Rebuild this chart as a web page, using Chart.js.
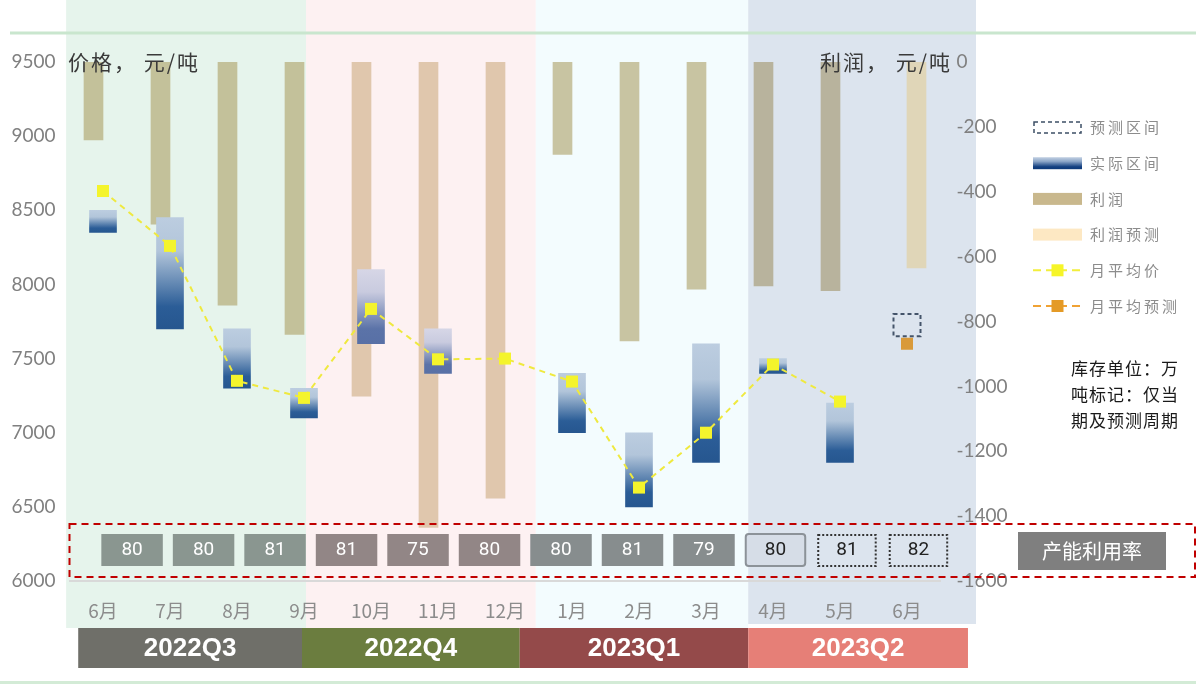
<!DOCTYPE html>
<html>
<head>
<meta charset="utf-8">
<title>价格与利润</title>
<script src="https://cdn.jsdelivr.net/npm/chart.js@4.4.1/dist/chart.umd.min.js"></script>
<style>
  html, body { margin: 0; padding: 0; background: #fff; }
  #chart { display: block; }
</style>
</head>
<body>
<canvas id="chart" width="1196" height="684"></canvas>
<script>
// ---- data ----
const months = ["6月", "7月", "8月", "9月", "10月", "11月", "12月", "1月", "2月", "3月", "4月", "5月", "6月"];
const profit = [-240, -500, -750, -840, -1030, -1435, -1345, -285, -860, -700, -690, -705, null];
const profitForecast = [null, null, null, null, null, null, null, null, null, null, null, null, -635];
const rangeLow = [8350, 7700, 7300, 7100, 7600, 7400, null, 7000, 6500, 6800, 7400, 6800, null];
const rangeHigh = [8500, 8450, 7700, 7300, 8100, 7700, null, 7400, 7000, 7600, 7500, 7200, null];
const forecastLow = [null, null, null, null, null, null, null, null, null, null, null, null, 7650];
const forecastHigh = [null, null, null, null, null, null, null, null, null, null, null, null, 7800];
const avgPrice = [8630, 8260, 7350, 7235, 7835, 7495, 7500, 7345, 6630, 7000, 7460, 7210, null];
const avgForecast = [null, null, null, null, null, null, null, null, null, null, null, null, 7600];
const capacity = [80, 80, 81, 81, 75, 80, 80, 81, 79, 80, 81, 82];
const quarters = ["2022Q3", "2022Q4", "2023Q1", "2023Q2"];
const priceRange = [6000, 9500];
const profitRange = [-1600, 0];

// ---- layout / styles ----
const FONT_CJK = '"Noto Sans CJK SC", "Noto Sans", sans-serif';
const FONT_NUM = 'Lato, "Noto Sans", sans-serif';
const bandEdges = [-0.55, 3.03, 6.46, 9.63, 13.03];      // in month-index units
const bandColors = ["#e6f4ec", "#fdf1f2", "#f3fcfe", "#dce4ee"];
const quarterEdges = [-0.37, 2.97, 6.22, 9.63, 12.91];
const quarterColors = ["#6f6f69", "#6b7d3f", "#944a4a", "#e67f77"];
// capacity boxes sit on their own grid, expressed in month-index units
const capStart = 0.434, capStep = 1.067, capHalf = 0.43;
const capStyles = ["#8a9690", "#8a9690", "#8a9690", "#928686", "#928686", "#928686",
                   "#878d8e", "#878d8e", "#878d8e", "outline", "dotted", "dotted"];

function profitColor(c) {
  const i = c.dataIndex;
  if (i >= 4 && i <= 6) return "rgba(205,172,126,0.6)";
  if (i >= 10) return "rgba(160,146,104,0.6)";
  return "rgba(172,158,100,0.6)";
}

function rangeFill(c) {
  const chart = c.chart;
  const v = c.raw;
  if (!chart.chartArea || !Array.isArray(v)) return "rgba(0,0,0,0)";
  const ys = chart.scales.y;
  const top = ys.getPixelForValue(Math.max(v[0], v[1]));
  const bot = ys.getPixelForValue(Math.min(v[0], v[1]));
  const soft = c.dataIndex === 4 || c.dataIndex === 5;
  const g = chart.ctx.createLinearGradient(0, top, 0, bot);
  g.addColorStop(0, soft ? "#d6d6e6" : "#bccde0");
  g.addColorStop(0.3, soft ? "#c9cbdf" : "#b2c5da");
  g.addColorStop(0.8, soft ? "#5b73a8" : "#2b5d97");
  g.addColorStop(1, soft ? "#5870a6" : "#26568f");
  return g;
}

function text(ctx, s, x, y, font, color, align, spacing) {
  ctx.save();
  ctx.font = font;
  ctx.fillStyle = color;
  ctx.textAlign = align || "left";
  ctx.textBaseline = "middle";
  if (spacing) ctx.letterSpacing = spacing;
  ctx.fillText(s, x, y);
  ctx.restore();
}

const decor = {
  id: "decor",
  beforeDraw(chart) {
    const ctx = chart.ctx;
    const x = chart.scales.x;
    const px = v => x.getPixelForValue(v);
    ctx.save();
    // quarter background bands
    for (let q = 0; q < 4; q++) {
      ctx.fillStyle = bandColors[q];
      ctx.fillRect(px(bandEdges[q]), 0, px(bandEdges[q + 1]) - px(bandEdges[q]), q === 3 ? 624 : 628);
    }
    // top and bottom rules
    ctx.fillStyle = "#c9e6ce";
    ctx.fillRect(10, 31.5, 1186, 3);
    ctx.fillStyle = "#d3ebd6";
    ctx.fillRect(0, 681, 1196, 3);
    // quarter labels
    for (let q = 0; q < quarters.length; q++) {
      const l = px(quarterEdges[q]), r = px(quarterEdges[q + 1]);
      ctx.fillStyle = quarterColors[q];
      ctx.fillRect(l, 628, r - l, 40);
      text(ctx, quarters[q], (l + r) / 2, 649, 'bold 26px "Liberation Sans", Arial, sans-serif', "#ffffff", "center");
    }
    ctx.restore();
  },
  afterDatasetsDraw(chart) {
    const ctx = chart.ctx;
    const area = chart.chartArea;
    const x = chart.scales.x;
    ctx.save();
    // forecast range: dashed outline around the bar element
    const meta = chart.getDatasetMeta(3);
    meta.data.forEach((bar, i) => {
      if (forecastLow[i] == null) return;
      const p = bar.getProps(["x", "y", "base", "width"], true);
      ctx.setLineDash([4, 3]);
      ctx.strokeStyle = "#44546a";
      ctx.lineWidth = 2;
      ctx.strokeRect(p.x - p.width / 2, Math.min(p.y, p.base), p.width, Math.abs(p.base - p.y));
    });
    // capacity strip
    ctx.setLineDash([7, 5]);
    ctx.strokeStyle = "#c00000";
    ctx.lineWidth = 2;
    ctx.strokeRect(area.left, 524, 1195 - area.left, 53);
    ctx.setLineDash([]);
    capacity.forEach((v, i) => {
      const c = capStart + capStep * i;
      const l = x.getPixelForValue(c - capHalf * capStep), r = x.getPixelForValue(c + capHalf * capStep);
      const st = capStyles[i];
      let tc = "#ffffff";
      if (st === "outline") {
        ctx.fillStyle = "#d6dde7";
        ctx.strokeStyle = "#8c9298";
        ctx.lineWidth = 2;
        ctx.beginPath();
        ctx.roundRect(l + 1, 534, r - l - 2, 32, 3);
        ctx.fill();
        ctx.stroke();
        tc = "#222222";
      } else if (st === "dotted") {
        ctx.setLineDash([2, 2]);
        ctx.strokeStyle = "#333333";
        ctx.lineWidth = 2;
        ctx.strokeRect(l + 2, 535, r - l - 4, 31);
        ctx.setLineDash([]);
        tc = "#222222";
      } else {
        ctx.fillStyle = st;
        ctx.fillRect(l, 534, r - l, 32);
      }
      text(ctx, String(v), (l + r) / 2, 550.5, '19px Roboto, "Liberation Sans", sans-serif', tc, "center");
    });
    // axis titles
    text(ctx, "价格， 元/吨", 68, 62, "21px " + FONT_CJK, "#3a3a3a", "left", "2px");
    text(ctx, "利润， 元/吨", 952, 62, "21px " + FONT_CJK, "#3a3a3a", "right", "2px");
    ctx.restore();
  },
  afterDraw(chart) {
    const ctx = chart.ctx;
    ctx.save();
    // capacity label box
    ctx.fillStyle = "#7f7f7f";
    ctx.fillRect(1018, 532, 148, 38);
    text(ctx, "产能利用率", 1092, 551, "20px " + FONT_CJK, "#ffffff", "center");

    // legend
    const ds = chart.data.datasets;
    const items = [
      { label: ds[3].label, kind: "dash" },
      { label: ds[2].label, kind: "grad" },
      { label: ds[0].label, kind: "fill", color: "#c9b88d" },
      { label: ds[1].label, kind: "fill", color: "#fde8c3" },
      { label: ds[4].label, kind: "line", color: "#f2ee3c", mark: "#f6f528" },
      { label: ds[5].label, kind: "line", color: "#f0a234", mark: "#e49a26" }
    ];
    const x0 = 1033, w = 49;
    items.forEach((it, k) => {
      const y = 127.5 + 35.7 * k;
      if (it.kind === "dash") {
        ctx.setLineDash([4, 3]);
        ctx.strokeStyle = "#3d4f66";
        ctx.lineWidth = 1.5;
        ctx.strokeRect(x0 + 1, y - 5.5, w - 2, 11);
        ctx.setLineDash([]);
      } else if (it.kind === "grad") {
        const g = ctx.createLinearGradient(0, y - 6, 0, y + 6);
        g.addColorStop(0, "#c3d1e3");
        g.addColorStop(0.35, "#8ca6c8");
        g.addColorStop(0.8, "#123f80");
        g.addColorStop(1, "#0e3a7a");
        ctx.fillStyle = g;
        ctx.fillRect(x0, y - 6, w, 12);
      } else if (it.kind === "fill") {
        ctx.fillStyle = it.color;
        ctx.fillRect(x0, y - 6, w, 12);
      } else {
        ctx.setLineDash([8, 5]);
        ctx.strokeStyle = it.color;
        ctx.lineWidth = 2;
        ctx.beginPath();
        ctx.moveTo(x0, y);
        ctx.lineTo(x0 + w, y);
        ctx.stroke();
        ctx.setLineDash([]);
        ctx.fillStyle = it.mark;
        ctx.fillRect(x0 + w / 2 - 6, y - 6, 12, 12);
      }
      text(ctx, it.label, 1090, y, "15px " + FONT_CJK, "#8c8c8c", "left", "3px");
    });

    // note
    const note = ["库存单位：万", "吨标记：仅当", "期及预测周期"];
    note.forEach((s, k) => text(ctx, s, 1071, 369 + 26 * k, "17px " + FONT_CJK, "#1a1a1a", "left", "1px"));
    ctx.restore();
  }
};

const tickFont = { family: FONT_NUM, size: 19 };

new Chart(document.getElementById("chart"), {
  type: "bar",
  data: {
    labels: months,
    datasets: [
      {
        label: "利润",
        data: profit,
        xAxisID: "x",
        yAxisID: "y2",
        backgroundColor: profitColor,
        barThickness: 19,
        order: 3
      },
      {
        label: "利润预测",
        data: profitForecast,
        xAxisID: "x",
        yAxisID: "y2",
        backgroundColor: "rgba(225,210,170,0.8)",
        barThickness: 19,
        order: 3
      },
      {
        label: "实际区间",
        data: rangeLow.map((lo, i) => (lo == null ? null : [lo, rangeHigh[i]])),
        xAxisID: "x",
        yAxisID: "y",
        grouped: false,
        backgroundColor: rangeFill,
        barThickness: 27,
        order: 2
      },
      {
        label: "预测区间",
        data: forecastLow.map((lo, i) => (lo == null ? null : [lo, forecastHigh[i]])),
        xAxisID: "x",
        yAxisID: "y",
        grouped: false,
        backgroundColor: "rgba(0,0,0,0)",
        barThickness: 27,
        order: 2
      },
      {
        type: "line",
        label: "月平均价",
        data: avgPrice,
        xAxisID: "x",
        yAxisID: "y",
        borderColor: "#efe93f",
        borderWidth: 2,
        borderDash: [6, 5],
        fill: false,
        tension: 0,
        pointStyle: "rect",
        pointRadius: 8.5,
        pointBackgroundColor: "#f4f42c",
        pointBorderWidth: 0,
        order: 0
      },
      {
        type: "line",
        label: "月平均预测",
        data: avgForecast,
        xAxisID: "x",
        yAxisID: "y",
        showLine: false,
        pointStyle: "rect",
        pointRadius: 8.5,
        pointBackgroundColor: "#d99a3a",
        pointBorderWidth: 0,
        order: 0
      }
    ]
  },
  options: {
    responsive: false,
    animation: false,
    layout: { padding: { left: 10, right: 175.5, top: 62, bottom: 53 } },
    plugins: {
      legend: { display: false },
      tooltip: { enabled: false }
    },
    scales: {
      x: {
        type: "category",
        offset: true,
        grid: { display: false, drawTicks: false },
        border: { display: true, color: "#d9d9d9", width: 2 },
        ticks: {
          color: "#8c8c8c",
          font: { family: FONT_CJK, size: 19 },
          padding: 18,
          maxRotation: 0,
          autoSkip: false
        },
        afterFit: s => { s.height = 50; }
      },
      y: {
        position: "left",
        min: priceRange[0],
        max: priceRange[1],
        grid: { display: false, drawTicks: false },
        border: { display: false },
        ticks: { stepSize: 500, color: "#808080", font: tickFont, padding: 14, callback: v => String(v) },
        afterFit: s => { s.width = 59.5; }
      },
      y2: {
        position: "right",
        min: profitRange[0],
        max: profitRange[1],
        grid: { display: false, drawTicks: false },
        border: { display: false },
        ticks: { stepSize: 200, color: "#808080", font: tickFont, padding: 16, callback: v => String(v) },
        afterFit: s => { s.width = 80; }
      }
    }
  },
  plugins: [decor]
});
</script>
</body>
</html>
